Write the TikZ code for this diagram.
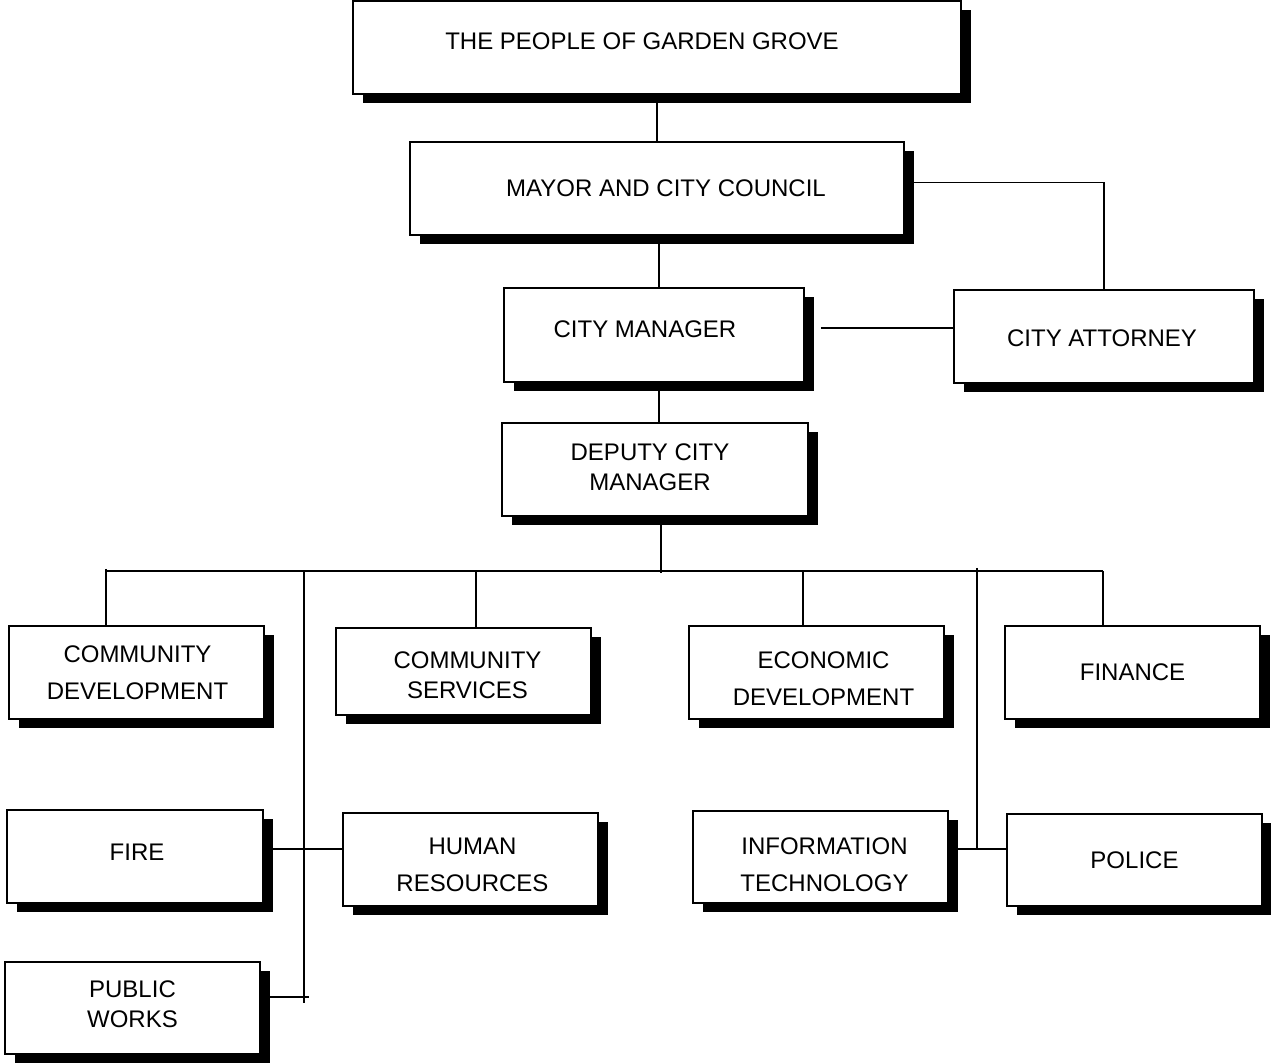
\documentclass[tikz,border=0pt]{standalone}
\usepackage{fontspec}
\setmainfont{Liberation Sans}
\usetikzlibrary{shadows}

\tikzset{
  unit/.style={draw, line width=0.8pt, fill=white, inner sep=0pt,
    minimum width=127.5pt, minimum height=46.5pt,
    drop shadow={shadow xshift=5pt, shadow yshift=-4.5pt, fill=black, opacity=1}},
  lbl/.style={align=center, inner sep=0pt, font=\fontsize{12}{18.5}\selectfont},
  tight/.style={font=\fontsize{12}{15}\selectfont},
  link/.style={line width=0.8pt}
}

\begin{document}
\begin{tikzpicture}[x=0.5pt,y=-0.5pt]
    \useasboundingbox (0,0) rectangle (1271,1063);

    % Top of the chart
    \node[unit, minimum width=304pt,
      label={[lbl, shift={(-7.5pt,3pt)}]center:THE PEOPLE OF GARDEN GROVE}] (people) at (657,47.5) {};
    \node[unit, minimum width=247pt,
      label={[lbl, shift={(4.5pt,0pt)}]center:MAYOR AND CITY COUNCIL}] (mayor) at (657,188.5) {};
    \node[unit, minimum width=150pt, minimum height=47pt,
      label={[lbl, shift={(-4.5pt,3pt)}]center:CITY MANAGER}] (cm) at (654,335) {};
    \node[unit, minimum width=150pt,
      label={[lbl, shift={(-1pt,-1pt)}]center:CITY ATTORNEY}] (ca) at (1104,336.5) {};
    \node[unit, minimum width=153pt,
      label={[lbl, tight, shift={(-2.5pt,1pt)}]center:DEPUTY CITY\\MANAGER}] (dcm) at (655,469.5) {};

    % Departments, first row
    \node[unit, label={[lbl, shift={(0.5pt,0pt)}]center:COMMUNITY\\DEVELOPMENT}] (cd) at (136.5,672.5) {};
    \node[unit, minimum height=43.5pt,
      label={[lbl, tight, shift={(2pt,-2pt)}]center:COMMUNITY\\SERVICES}] (cs) at (463.5,671.5) {};
    \node[unit, label={[lbl, shift={(3.5pt,-3pt)}]center:ECONOMIC\\DEVELOPMENT}] (ed) at (816.5,672.5) {};
    \node[unit, label={[lbl]center:FINANCE}] (fin) at (1132.5,672.5) {};

    % Departments, second row
    \node[unit, minimum width=128pt, label={[lbl, shift={(1pt,2pt)}]center:FIRE}] (fire) at (135,856.5) {};
    \node[unit, label={[lbl, shift={(1pt,-2.5pt)}]center:HUMAN\\RESOURCES}] (hr) at (470.5,859.5) {};
    \node[unit, minimum height=46pt,
      label={[lbl, shift={(2pt,-4pt)}]center:INFORMATION\\TECHNOLOGY}] (it) at (820.5,857) {};
    \node[unit, minimum height=46pt, label={[lbl]center:POLICE}] (pol) at (1134.5,860) {};

    % Last one
    \node[unit, minimum height=46pt,
      label={[lbl, tight, shift={(0pt,2pt)}]center:PUBLIC\\WORKS}] (pw) at (132.5,1008) {};

    % Junctions
    \coordinate (j1) at (106,571);
    \coordinate (j2) at (476,571);
    \coordinate (j3) at (803,571);
    \coordinate (j4) at (1103,571);
    \coordinate (jd) at (661,573);
    \coordinate (lt) at (304,571);
    \coordinate (lb) at (304,1003);
    \coordinate (lh) at (304,849);
    \coordinate (pwj) at (309,997);
    \coordinate (rt) at (977,568);
    \coordinate (rh) at (977,849);

    % Upper links
    \draw[link] (people.south) -- (mayor.north);
    \draw[link] ([yshift=3pt]mayor.east) -- ([yshift=3pt]ca.north |- mayor.east) -- (ca.north);
    \draw[link] ([xshift=2.5pt]cm.north) -- ([xshift=2.5pt]cm.north |- mayor.south);
    \draw[link] ([shift={(8pt,3.5pt)}]cm.east) -- ([yshift=3.5pt]ca.west |- cm.east);
    \draw[link] ([xshift=2.5pt]cm.south) -- ([xshift=2.5pt]cm.south |- dcm.north);
    \draw[link] (jd |- dcm.south) -- (jd);

    % Bus and drops
    \draw[link] (j1) -- (j4);
    \draw[link] ([yshift=1pt]j1) -- (j1 |- cd.north);
    \draw[link] (j2) -- (j2 |- cs.north);
    \draw[link] (j3) -- (j3 |- ed.north);
    \draw[link] (j4) -- (j4 |- fin.north);

    % Side trunks
    \draw[link] (lt) -- (lb);
    \draw[link] (fire.east |- lh) -- (hr.west |- lh);
    \draw[link] (pw.east |- pwj) -- (pwj);
    \draw[link] (rt) -- (rh);
    \draw[link] (it.east |- rh) -- (pol.west |- rh);
\end{tikzpicture}
\end{document}
